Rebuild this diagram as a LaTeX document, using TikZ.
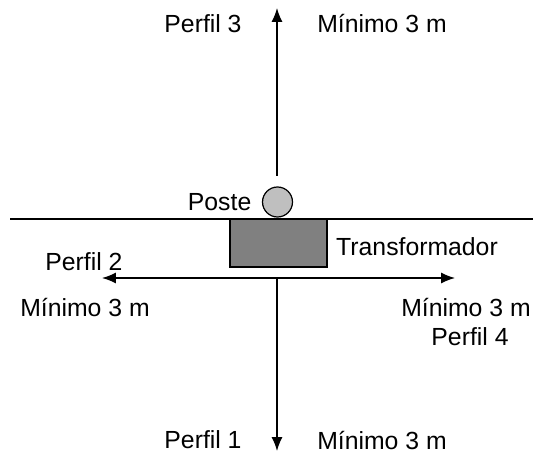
\documentclass[tikz,border=0pt]{standalone}
\usepackage{fontspec}
\setmainfont{Liberation Sans}
\usetikzlibrary{arrows.meta,positioning}
\tikzset{>={Latex[length=0.28cm,width=0.22cm]}}

\begin{document}
\begin{tikzpicture}[x=0.02cm,y=-0.02cm,line width=0.7pt,
  every node/.style={font=\fontsize{14.1pt}{17pt}\selectfont,inner sep=0pt}]
		\useasboundingbox (0,0) rectangle (533,452);
		\def\mn{M\'{\i}nimo 3 m}
		% ground line
		\coordinate (groundW) at (10,219);
		\coordinate (groundE) at (533,219);
		\draw (groundW) -- (groundE);
		
		\node[draw,circle,fill=black!25,minimum size=0.6cm] (poste) at (277.5,202) {};
		\node[draw,rectangle,fill=black!50,minimum width=1.94cm,minimum height=0.96cm] (trafo) at (278.5,243) {};
		
		\coordinate (profN) at (277,8);
		\coordinate (profNs) at (277,176);
		\coordinate (profS) at (277,451);
		\coordinate (profSs) at (277,278);
		\coordinate (profW) at (102,278);
		\coordinate (profE) at (455,278);
		\draw[->] (profNs) -- (profN);
		\draw[->] (profSs) -- (profS);
		\draw[<->] (profW) -- (profE);
		
		\node at (203,24) (p3) {Perfil 3};
		\node at (382,24) (m3) {\mn};
		\node[left=0.2cm of poste] (lposte) {Poste};
		\node at (417,247) (ltrafo) {Transformador};
		\node at (84,262) (p2) {Perfil 2};
		\node at (85,307) (m2) {\mn};
		\node at (466,307) (m4) {\mn};
		\node at (470,337) (p4) {Perfil 4};
		\node at (203,440) (p1) {Perfil 1};
		\node at (382,440) (m1) {\mn};
\end{tikzpicture}
\end{document}
